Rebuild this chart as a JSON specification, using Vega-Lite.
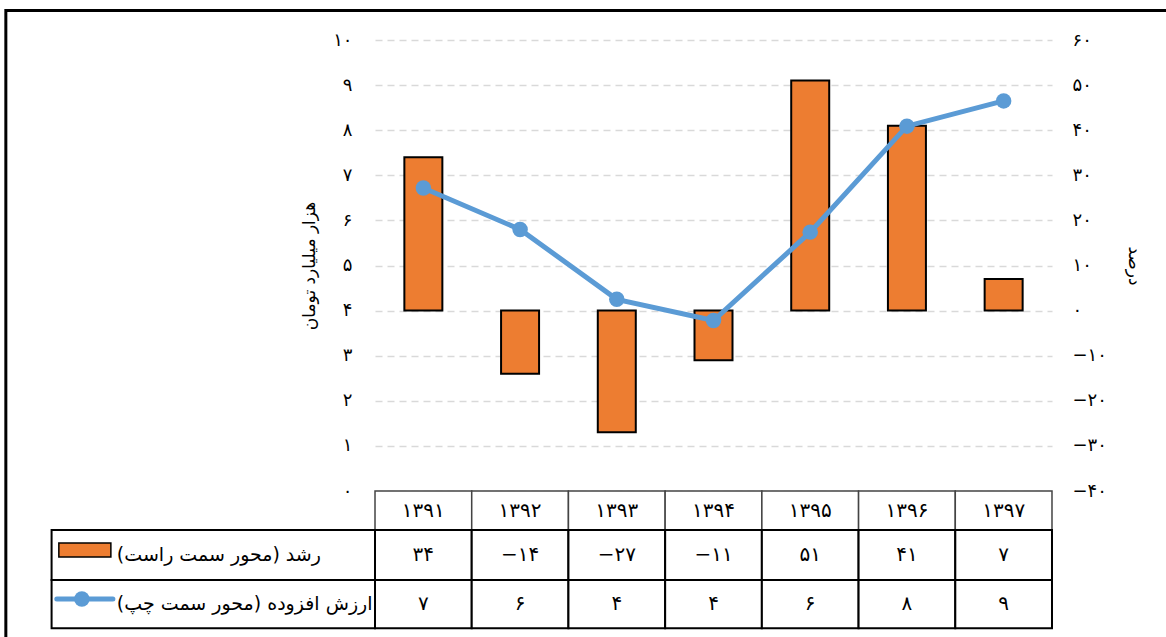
{
  "$schema": "https://vega.github.io/schema/vega-lite/v6.json",
  "width": 677,
  "height": 451,
  "autosize": {"type": "none"},
  "padding": {"left": 375, "top": 40, "right": 114, "bottom": 146},
  "background": "white",
  "config": {"view": {"stroke": null}, "font": "DejaVu Sans"},
  "data": {"values": [
    {"year": 1391, "growth": 34, "value": 6.72},
    {"year": 1392, "growth": -14, "value": 5.80},
    {"year": 1393, "growth": -27, "value": 4.25},
    {"year": 1394, "growth": -11, "value": 3.78},
    {"year": 1395, "growth": 51, "value": 5.74},
    {"year": 1396, "growth": 41, "value": 8.09},
    {"year": 1397, "growth": 7, "value": 8.65}
  ]},
  "transform": [
    {"calculate": "replace(replace(replace(replace(replace(replace(replace(replace(replace(replace(replace(toString(datum.year),regexp('0','g'),'۰'),regexp('1','g'),'۱'),regexp('2','g'),'۲'),regexp('3','g'),'۳'),regexp('4','g'),'۴'),regexp('5','g'),'۵'),regexp('6','g'),'۶'),regexp('7','g'),'۷'),regexp('8','g'),'۸'),regexp('9','g'),'۹'),'-','−')", "as": "yearFa"},
    {"calculate": "replace(replace(replace(replace(replace(replace(replace(replace(replace(replace(replace(toString(datum.growth),regexp('0','g'),'۰'),regexp('1','g'),'۱'),regexp('2','g'),'۲'),regexp('3','g'),'۳'),regexp('4','g'),'۴'),regexp('5','g'),'۵'),regexp('6','g'),'۶'),regexp('7','g'),'۷'),regexp('8','g'),'۸'),regexp('9','g'),'۹'),'-','−')", "as": "growthFa"},
    {"calculate": "replace(replace(replace(replace(replace(replace(replace(replace(replace(replace(replace(toString(round(datum.value)),regexp('0','g'),'۰'),regexp('1','g'),'۱'),regexp('2','g'),'۲'),regexp('3','g'),'۳'),regexp('4','g'),'۴'),regexp('5','g'),'۵'),regexp('6','g'),'۶'),regexp('7','g'),'۷'),regexp('8','g'),'۸'),regexp('9','g'),'۹'),'-','−')", "as": "valueFa"}
  ],
  "layer": [
    {
      "mark": {"type": "bar", "width": 38, "fill": "#ED7D31", "stroke": "black", "strokeWidth": 2},
      "encoding": {
        "x": {"field": "year", "type": "quantitative", "scale": {"domain": [1390.5, 1397.5], "nice": false, "zero": false, "padding": 0}, "axis": null},
        "y": {"field": "growth", "type": "quantitative",
          "scale": {"domain": [-40, 60], "nice": false, "zero": false},
          "axis": {"orient": "right", "values": [-40, -30, -20, -10, 0, 10, 20, 30, 40, 50, 60],
            "labelExpr": "replace(replace(replace(replace(replace(replace(replace(replace(replace(replace(replace(toString(datum.value),regexp('0','g'),'۰'),regexp('1','g'),'۱'),regexp('2','g'),'۲'),regexp('3','g'),'۳'),regexp('4','g'),'۴'),regexp('5','g'),'۵'),regexp('6','g'),'۶'),regexp('7','g'),'۷'),regexp('8','g'),'۸'),regexp('9','g'),'۹'),'-','−')",
            "title": "درصد", "grid": false, "domain": false, "ticks": false,
            "labelPadding": 20, "labelFontSize": 18, "labelColor": "black",
            "titleFontSize": 17, "titleFontWeight": "normal", "titleColor": "black", "titlePadding": 18}
        }
      }
    },
    {
      "layer": [
        {
          "mark": {"type": "line", "color": "#5B9BD5", "strokeWidth": 5},
          "encoding": {
            "x": {"field": "year", "type": "quantitative", "scale": {"domain": [1390.5, 1397.5], "nice": false, "zero": false, "padding": 0}, "axis": null},
            "y": {"field": "value", "type": "quantitative",
              "scale": {"domain": [0, 10], "nice": false, "zero": false},
              "axis": {"orient": "left", "values": [0, 1, 2, 3, 4, 5, 6, 7, 8, 9, 10],
                "labelExpr": "replace(replace(replace(replace(replace(replace(replace(replace(replace(replace(replace(toString(datum.value),regexp('0','g'),'۰'),regexp('1','g'),'۱'),regexp('2','g'),'۲'),regexp('3','g'),'۳'),regexp('4','g'),'۴'),regexp('5','g'),'۵'),regexp('6','g'),'۶'),regexp('7','g'),'۷'),regexp('8','g'),'۸'),regexp('9','g'),'۹'),'-','−')",
                "title": "هزار میلیارد تومان", "grid": true, "gridDash": [7, 5], "gridColor": "#d9d9d9", "gridWidth": 1.5,
                "domain": false, "ticks": false, "labelPadding": 23, "labelFontSize": 18, "labelColor": "black",
                "titleFontSize": 17, "titleFontWeight": "normal", "titleColor": "black", "titlePadding": 14}
            }
          }
        },
        {
          "mark": {"type": "point", "filled": true, "color": "#5B9BD5", "size": 240, "opacity": 1},
          "encoding": {
            "x": {"field": "year", "type": "quantitative"},
            "y": {"field": "value", "type": "quantitative"}
          }
        },
        {
          "mark": {"type": "bar", "width": 96.7, "fill": "white", "stroke": "#444444", "strokeWidth": 1.5},
          "encoding": {"x": {"field": "year", "type": "quantitative"}, "y": {"datum": 0}, "y2": {"datum": -0.865}}
        },
        {
          "mark": {"type": "bar", "width": 96.7, "fill": "white", "stroke": "black", "strokeWidth": 2},
          "encoding": {"x": {"field": "year", "type": "quantitative"}, "y": {"datum": -0.865}, "y2": {"datum": -1.973}}
        },
        {
          "mark": {"type": "bar", "width": 96.7, "fill": "white", "stroke": "black", "strokeWidth": 2},
          "encoding": {"x": {"field": "year", "type": "quantitative"}, "y": {"datum": -1.973}, "y2": {"datum": -3.044}}
        },
        {
          "data": {"values": [{}]},
          "mark": {"type": "rect", "fill": "white", "stroke": "black", "strokeWidth": 2},
          "encoding": {"x": {"datum": 1387.156, "type": "quantitative"}, "x2": {"datum": 1390.5}, "y": {"datum": -0.865}, "y2": {"datum": -1.973}}
        },
        {
          "data": {"values": [{}]},
          "mark": {"type": "rect", "fill": "white", "stroke": "black", "strokeWidth": 2},
          "encoding": {"x": {"datum": 1387.156, "type": "quantitative"}, "x2": {"datum": 1390.5}, "y": {"datum": -1.973}, "y2": {"datum": -3.044}}
        },
        {
          "mark": {"type": "text", "fontSize": 20, "color": "black"},
          "encoding": {"x": {"field": "year", "type": "quantitative"}, "y": {"datum": -0.443}, "text": {"field": "yearFa"}}
        },
        {
          "mark": {"type": "text", "fontSize": 20, "color": "black"},
          "encoding": {"x": {"field": "year", "type": "quantitative"}, "y": {"datum": -1.419}, "text": {"field": "growthFa"}}
        },
        {
          "mark": {"type": "text", "fontSize": 20, "color": "black"},
          "encoding": {"x": {"field": "year", "type": "quantitative"}, "y": {"datum": -2.506}, "text": {"field": "valueFa"}}
        },
        {
          "data": {"values": [{}]},
          "mark": {"type": "rect", "fill": "#ED7D31", "stroke": "black", "strokeWidth": 1.5},
          "encoding": {"x": {"datum": 1387.231, "type": "quantitative"}, "x2": {"datum": 1387.769}, "y": {"datum": -1.153}, "y2": {"datum": -1.463}}
        },
        {
          "data": {"values": [{}]},
          "mark": {"type": "rule", "color": "#5B9BD5", "strokeWidth": 5, "strokeCap": "round"},
          "encoding": {"x": {"datum": 1387.21, "type": "quantitative"}, "x2": {"datum": 1387.79}, "y": {"datum": -2.395}}
        },
        {
          "data": {"values": [{}]},
          "mark": {"type": "point", "filled": true, "color": "#5B9BD5", "size": 240, "opacity": 1},
          "encoding": {"x": {"datum": 1387.469, "type": "quantitative"}, "y": {"datum": -2.395}}
        },
        {
          "data": {"values": [{"label": "\u200fرشد (محور سمت راست)\u200f", "row": -1.419}, {"label": "\u200fارزش افزوده (محور سمت چپ)\u200f", "row": -2.506}]},
          "mark": {"type": "text", "fontSize": 19, "color": "black", "align": "left"},
          "encoding": {"x": {"datum": 1387.831, "type": "quantitative"}, "y": {"field": "row", "type": "quantitative"}, "text": {"field": "label"}}
        },
        {
          "data": {"values": [{}]},
          "mark": {"type": "rect", "filled": false, "stroke": "black", "strokeWidth": 3},
          "encoding": {"x": {"datum": 1386.683, "type": "quantitative"}, "x2": {"datum": 1400}, "y": {"datum": 10.654}, "y2": {"datum": -4}}
        }
      ]
    }
  ],
  "resolve": {"scale": {"y": "independent"}, "axis": {"y": "independent"}}
}
